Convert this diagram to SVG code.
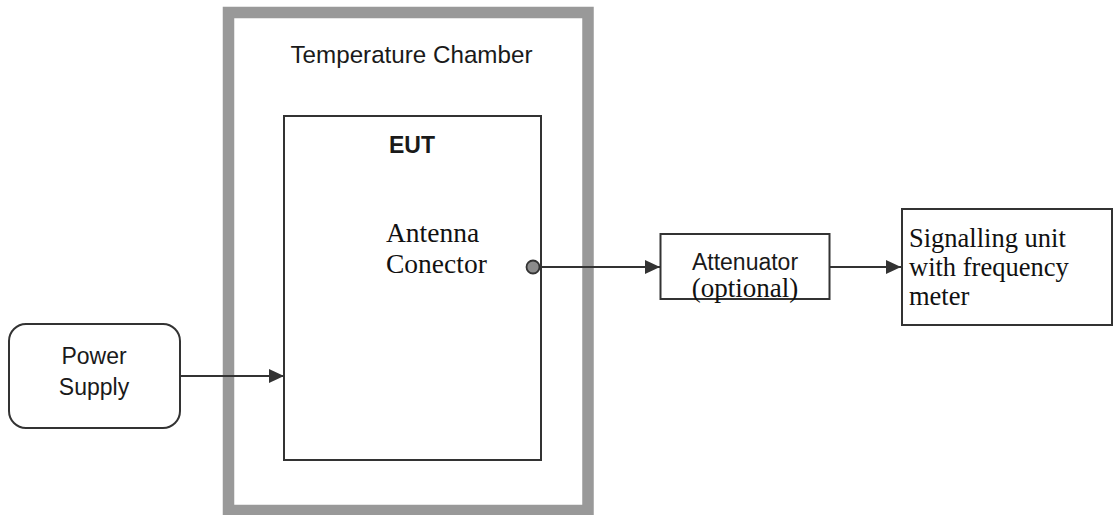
<svg xmlns="http://www.w3.org/2000/svg" width="1113" height="515" viewBox="0 0 1113 515">
<style>
.box{fill:#fff;stroke:#333;stroke-width:2}
.sans{font-family:"Liberation Sans",Arial,sans-serif;fill:#1a1a1a}
.serif{font-family:"Liberation Serif","Times New Roman",serif;fill:#111}
.conn{stroke:#333;stroke-width:2;fill:none}
</style>
<defs>
<marker id="arr" markerWidth="16" markerHeight="14" refX="15" refY="7" orient="auto" markerUnits="userSpaceOnUse">
<path d="M0,0 L15,7 L0,14 Z" fill="#333"/>
</marker>
</defs>
<rect width="1113" height="515" fill="#fff"/>
<g id="chamber">
<rect x="228.5" y="12.5" width="359.5" height="498" fill="#fff" stroke="#999" stroke-width="11.5"/>
<text class="sans" x="411.5" y="63" font-size="24.2" text-anchor="middle">Temperature Chamber</text>
</g>
<g id="eut">
<rect class="box" x="284" y="116" width="257" height="344"/>
<text class="sans" x="412" y="153" font-size="23" font-weight="bold" text-anchor="middle">EUT</text>
<text class="serif" x="386" y="242" font-size="27.5">Antenna</text>
<text class="serif" x="386" y="273" font-size="27.5">Conector</text>
</g>
<g id="power">
<rect class="box" x="9" y="324" width="171" height="104" rx="17"/>
<text class="sans" x="94" y="364" font-size="23" text-anchor="middle">Power</text>
<text class="sans" x="94" y="395" font-size="23" text-anchor="middle">Supply</text>
</g>
<g id="attenuator">
<rect class="box" x="660.5" y="234" width="169" height="65"/>
<text class="sans" x="745" y="270" font-size="23" text-anchor="middle">Attenuator</text>
<text class="serif" x="745" y="297" font-size="27" text-anchor="middle">(optional)</text>
</g>
<g id="signalling">
<rect class="box" x="902" y="209" width="210" height="116"/>
<text class="serif" x="909" y="247" font-size="26.5">Signalling unit</text>
<text class="serif" x="909" y="276" font-size="26.5">with frequency</text>
<text class="serif" x="909" y="305" font-size="26.5">meter</text>
</g>
<g id="connectors">
<line class="conn" x1="180" y1="376" x2="284" y2="376" marker-end="url(#arr)"/>
<line class="conn" x1="539" y1="267" x2="660" y2="267" marker-end="url(#arr)"/>
<line class="conn" x1="830" y1="267" x2="901" y2="267" marker-end="url(#arr)"/>
</g>
<g id="port">
<circle cx="533" cy="267" r="6.5" fill="#8c8c8c" stroke="#333" stroke-width="1.8"/>
</g>
</svg>
